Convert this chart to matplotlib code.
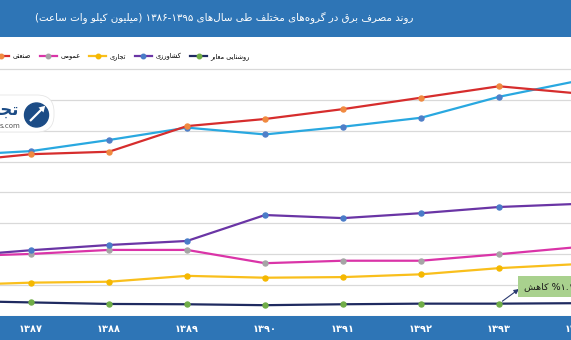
import re
import matplotlib
matplotlib.use('Agg')
import matplotlib.pyplot as plt
from matplotlib.patches import Rectangle, FancyBboxPatch, Circle, FancyArrow

plt.rcParams['font.family'] = ['DejaVu Sans']

# داده‌ها (میلیون کیلووات ساعت)
years = [1386, 1387, 1388, 1389, 1390, 1391, 1392, 1393, 1394, 1395]
year_labels = ['۱۳۸۶', '۱۳۸۷', '۱۳۸۸', '۱۳۸۹', '۱۳۹۰', '۱۳۹۱', '۱۳۹۲', '۱۳۹۳', '۱۳۹۴', '۱۳۹۵']
residential = [52000, 53400, 57000, 61000, 58800, 61300, 64200, 71000, 76100, 78000]
industrial = [49900, 52400, 53200, 61500, 63800, 67000, 70700, 74400, 72100, 76000]
agriculture = [19300, 21300, 23000, 24300, 32700, 31700, 33300, 35300, 36300, 36500]
public = [19300, 20100, 21400, 21400, 17100, 17900, 17900, 20000, 22300, 23000]
commercial = [10000, 10800, 11100, 13000, 12400, 12600, 13500, 15500, 16800, 17500]
streetlight = [4900, 4400, 3900, 3800, 3500, 3800, 4000, 4000, 4150, 4100]

names = ['خانگی', 'صنعتی', 'عمومی', 'تجاری', 'کشاورزی', 'روشنایی معابر']
title = 'روند مصرف برق در گروه‌های مختلف طی سال‌های ۱۳۹۵-۱۳۸۶ (میلیون کیلو وات ساعت)'
note = '۱.۱% کاهش'

# شکل‌دهی حروف فارسی (matplotlib خودش این کار را نمی‌کند)
FORMS = {
    'ا': ('\uFE8D', '\uFE8E', None, None), 'ب': ('\uFE8F', '\uFE90', '\uFE91', '\uFE92'),
    'پ': ('\uFB56', '\uFB57', '\uFB58', '\uFB59'), 'ت': ('\uFE95', '\uFE96', '\uFE97', '\uFE98'),
    'ج': ('\uFE9D', '\uFE9E', '\uFE9F', '\uFEA0'), 'ح': ('\uFEA1', '\uFEA2', '\uFEA3', '\uFEA4'),
    'خ': ('\uFEA5', '\uFEA6', '\uFEA7', '\uFEA8'), 'د': ('\uFEA9', '\uFEAA', None, None),
    'ر': ('\uFEAD', '\uFEAE', None, None), 'ز': ('\uFEAF', '\uFEB0', None, None),
    'س': ('\uFEB1', '\uFEB2', '\uFEB3', '\uFEB4'), 'ش': ('\uFEB5', '\uFEB6', '\uFEB7', '\uFEB8'),
    'ص': ('\uFEB9', '\uFEBA', '\uFEBB', '\uFEBC'), 'ط': ('\uFEC1', '\uFEC2', '\uFEC3', '\uFEC4'),
    'ع': ('\uFEC9', '\uFECA', '\uFECB', '\uFECC'), 'ف': ('\uFED1', '\uFED2', '\uFED3', '\uFED4'),
    'ق': ('\uFED5', '\uFED6', '\uFED7', '\uFED8'), 'ک': ('\uFB8E', '\uFB8F', '\uFB90', '\uFB91'),
    'گ': ('\uFB92', '\uFB93', '\uFB94', '\uFB95'), 'ل': ('\uFEDD', '\uFEDE', '\uFEDF', '\uFEE0'),
    'م': ('\uFEE1', '\uFEE2', '\uFEE3', '\uFEE4'), 'ن': ('\uFEE5', '\uFEE6', '\uFEE7', '\uFEE8'),
    'ه': ('\uFEE9', '\uFEEA', '\uFEEB', '\uFEEC'), 'و': ('\uFEED', '\uFEEE', None, None),
    'ی': ('\uFBFC', '\uFBFD', '\uFBFE', '\uFBFF'),
}


def fa(text):
    out = []
    for i, ch in enumerate(text):
        f = FORMS.get(ch)
        if f is None:
            out.append(ch)
            continue
        prev = text[i - 1] if i > 0 else ''
        nxt = text[i + 1] if i < len(text) - 1 else ''
        jp = prev in FORMS and FORMS[prev][2] is not None
        jn = f[2] is not None and nxt in FORMS
        out.append(f[3] if jp and jn else f[1] if jp else f[2] if jn else f[0])
    s = ''.join(out).replace('\u200c', '')
    tokens = re.findall(r'[۰-۹0-9]+(?:[.٫][۰-۹0-9]+)*|.', s, re.S)[::-1]
    mirror = {'(': ')', ')': '('}
    return ''.join(mirror.get(t, t) for t in tokens)


W, H = 571, 340
fig = plt.figure(figsize=(W / 100, H / 100), dpi=100)
band = '#2E75B6'

# پس‌زمینه: نوار عنوان و نوار محور
bg = fig.add_axes([0, 0, 1, 1], zorder=0)
bg.set_xlim(0, W)
bg.set_ylim(H, 0)
bg.axis('off')
bg.add_patch(Rectangle((0, 0), W, 37, color=band, lw=0))
bg.add_patch(Rectangle((0, 316), W, 24, color=band, lw=0))
t = bg.text(413, 18, fa(title), color='white', fontsize=10, ha='right', va='center')
# اندازه‌ی قلم عنوان را طوری می‌گیریم که پهنایش حدود ۳۷۶ پیکسل شود
r = fig.canvas.get_renderer()
t.set_fontsize(10 * 378 / t.get_window_extent(r).width)

# نمودار اصلی (پهن‌تر از تصویر، مثل برش مرجع)
left_px, right_px, step = -80, 660, 78
ax = fig.add_axes([left_px / W, 24 / H, (right_px - left_px) / W, (316 - 62.8) / H], zorder=1)
ax.patch.set_alpha(0)

series = [
    (residential, '#29A8E0', '#4F7FC8'),
    (industrial, '#D62D2D', '#F08A40'),
    (public, '#DA34A8', '#A5A5A5'),
    (commercial, '#F9BF1C', '#F5B800'),
    (agriculture, '#6A35A5', '#4A7CC8'),
    (streetlight, '#1F2A60', '#70AD47'),
]
handles = []
for (vals, lc, mc), name in zip(series, names):
    h, = ax.plot(years, vals, color=lc, lw=1.6, marker='o', ms=3.6,
                 mfc=mc, mec=mc, label=fa(name))
    handles.append(h)

ax.set_xticks(years)
ax.set_xticklabels(year_labels, color='white', fontsize=7, fontweight='bold')
ax.set_yticks(range(0, 90000, 10000))
x0 = 1387 - (31 - left_px) / step
ax.set_xlim(x0, x0 + (right_px - left_px) / step)
ax.set_ylim(0, 82000)
ax.grid(axis='y', color='#D9D9D9', lw=0.9)
ax.set_axisbelow(True)
for s in ax.spines.values():
    s.set_visible(False)
ax.tick_params(axis='x', length=0, pad=6)
ax.tick_params(axis='y', length=0, labelleft=False)

fig.legend(handles=handles, loc='center right', bbox_to_anchor=(250 / W, 1 - 56 / H),
           ncol=6, frameon=False, fontsize=4.8, handlelength=2.6, handletextpad=0.5,
           columnspacing=1.3, borderaxespad=0, borderpad=0, markerscale=0.9)

# کادر توضیح و پیکان
ov = fig.add_axes([0, 0, 1, 1], zorder=2)
ov.set_xlim(0, W)
ov.set_ylim(H, 0)
ov.axis('off')
ov.add_patch(Rectangle((518, 276), 60, 21, color='#A9D18E', lw=0))
ov.text(524, 287, fa(note), fontsize=6.8, color='#1a1a1a', ha='left', va='center')
ax.annotate('', xy=(519, H - 289), xycoords='figure pixels',
            xytext=(years[7], streetlight[7]), textcoords='data',
            arrowprops=dict(arrowstyle='-|>', color='#2B3A70', lw=0.8,
                            shrinkA=3, shrinkB=0, mutation_scale=7))

# نشان‌واره
ov.add_patch(FancyBboxPatch((-20, 95), 74, 37, boxstyle='round,pad=0,rounding_size=17',
                            fc='white', ec='#E6E6E6', lw=0.6))
ov.add_patch(Circle((36.5, 115), 12, color='#1C4C86'))
ov.add_patch(FancyArrow(30, 121, 11, -11, width=2.2, head_width=7, head_length=6,
                        color='white', lw=0))
ov.text(19, 110, fa('تجا'), fontsize=12, fontweight='bold', color='#1C4C86',
        ha='right', va='center')
ov.text(20, 126, 's.com', fontsize=5, color='#555555', ha='right', va='center')

fig.savefig('out.png', dpi=100)
